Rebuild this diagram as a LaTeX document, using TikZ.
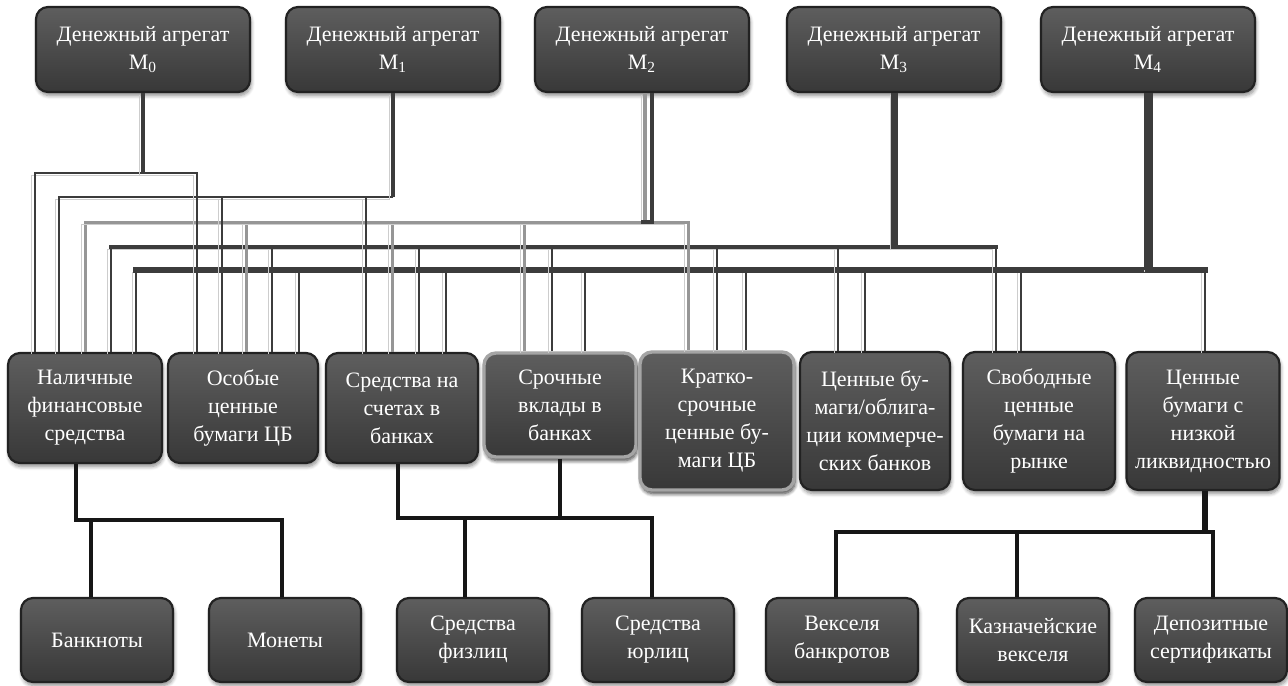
\documentclass[tikz,border=0pt]{standalone}
\usepackage{fontspec}
\setmainfont{Liberation Serif}
\usetikzlibrary{calc,shadows.blur}
\definecolor{boxtop}{RGB}{94,94,94}
\definecolor{boxbot}{RGB}{56,56,56}
\definecolor{boxedge}{RGB}{34,34,34}
\definecolor{lightedge}{RGB}{165,165,165}
\definecolor{linedark}{RGB}{60,60,60}
\definecolor{linegray}{RGB}{150,150,150}
\definecolor{linebot}{RGB}{22,22,22}
\definecolor{lineshade}{RGB}{205,205,205}
\tikzset{
  box/.style={rounded corners=6pt, draw=boxedge, line width=1.1pt,
    top color=boxtop, bottom color=boxbot, text=white, align=center,
    font=\rmfamily\fontsize{11}{14}\selectfont, inner sep=1pt,
    blur shadow={shadow xshift=0.6pt, shadow yshift=-1.8pt, shadow blur steps=6, shadow opacity=45}},
  lbox/.style={box, draw=lightedge, line width=1.7pt},
  topbox/.style={box, minimum width=107pt, minimum height=42.5pt},
  midbox/.style={box, minimum width=76pt, minimum height=55pt},
  tallbox/.style={box, minimum width=76pt, minimum height=69pt},
  lowbox/.style={box, minimum width=76pt, minimum height=42pt},
  lshade/.style={preaction={draw=lineshade, transform canvas={xshift=-1.6pt, yshift=-1pt}}},
  cdark/.style={lshade, draw=linedark, line width=1.4pt},
  cgray/.style={lshade, draw=linegray, line width=1.5pt},
  bline/.style={draw=linebot, line width=1.8pt},
}
\begin{document}
\begin{tikzpicture}[x=0.5pt,y=-0.5pt]
\useasboundingbox (0,0) rectangle (1288,685);
% top row
\node[topbox] (M0) at (143,49.5) {Денежный агрегат\\М\textsubscript{0}};
\node[topbox] (M1) at (393,49.5) {Денежный агрегат\\М\textsubscript{1}};
\node[topbox] (M2) at (642,49.5) {Денежный агрегат\\М\textsubscript{2}};
\node[topbox] (M3) at (894,49.5) {Денежный агрегат\\М\textsubscript{3}};
\node[topbox] (M4) at (1148,49.5) {Денежный агрегат\\М\textsubscript{4}};
% middle row
\node[midbox, minimum width=77pt] (nal) at (85,408) {Наличные\\финансовые\\средства};
\node[midbox, minimum width=75pt] (osob) at (243,408) {Особые\\ценные\\бумаги ЦБ};
\node[midbox] (sred) at (402,408) {Средства на\\счетах в\\банках};
\node[midbox, lbox, minimum height=52pt] (sroch) at (560,405) {Срочные\\вклады в\\банках};
\node[tallbox, lbox, minimum width=77pt] (krat) at (717,421) {Кратко-\\срочные\\ценные бу-\\маги ЦБ};
\node[tallbox, minimum width=75pt] (cenob) at (875,421) {Ценные бу-\\маги/облига-\\ции коммерче-\\ских банков};
\node[tallbox] (svob) at (1039,421) {Свободные\\ценные\\бумаги на\\рынке};
\node[tallbox, minimum width=76.5pt] (nizk) at (1203,421) {Ценные\\бумаги с\\низкой\\ликвидностью};
% bottom row
\node[lowbox] (bank) at (97,640) {Банкноты};
\node[lowbox] (mon) at (285,640) {Монеты};
\node[lowbox] (fiz) at (473,640) {Средства\\физлиц};
\node[lowbox] (yur) at (658,640) {Средства\\юрлиц};
\node[lowbox] (veks) at (842,640) {Векселя\\банкротов};
\node[lowbox] (kazn) at (1033,640) {Казначейские\\векселя};
\node[lowbox] (depo) at (1211,640) {Депозитные\\сертификаты};
% bar levels
\coordinate (y0) at (0,173);
\coordinate (y1) at (0,197);
\coordinate (y2) at (0,222);
\coordinate (y3) at (0,247);
\coordinate (y4) at (0,270);
\coordinate (z1) at (0,520);
\coordinate (z2) at (0,518);
\coordinate (z3) at (0,532);
% ports
\foreach \t/\d in {nal/-50,osob/-46} {\coordinate (p0-\t) at ($(\t.north)+(\d,0)$);}
\foreach \t/\d in {nal/-26,osob/-21,sred/-36} {\coordinate (p1-\t) at ($(\t.north)+(\d,0)$);}
\foreach \t/\d in {nal/0,osob/3,sred/-10,sroch/-36,krat/-29} {\coordinate (p2-\t) at ($(\t.north)+(\d,0)$);}
\foreach \t/\d in {nal/26,osob/29,sred/17,sroch/-8,krat/0,cenob/-37,svob/-43} {\coordinate (p3-\t) at ($(\t.north)+(\d,0)$);}
\foreach \t/\d in {nal/51,osob/56,sred/44,sroch/25,krat/29,cenob/-10,svob/-18,nizk/2} {\coordinate (p4-\t) at ($(\t.north)+(\d,0)$);}
% M4
\foreach \t in {nal,osob,sred,sroch,krat,cenob,svob,nizk} {\draw[cdark] (M4.south |- y4) -| (p4-\t);}
\draw[draw=linedark, line width=3pt, line cap=rect] (p4-nal |- y4) -- (p4-nizk |- y4);
\draw[lshade, draw=linedark, line width=4.5pt] (M4.south) -- (M4.south |- y4);
% M3
\foreach \t in {nal,osob,sred,sroch,krat,cenob,svob} {\draw[cdark] (M3.south |- y3) -| (p3-\t);}
\draw[draw=linedark, line width=2.2pt, line cap=rect] (p3-nal |- y3) -- (p3-svob |- y3);
\draw[lshade, draw=linedark, line width=3.5pt] (M3.south) -- (M3.south |- y3);
% M2
\coordinate (m2t) at ($(M2.south)+(3,0)$);
\foreach \t in {nal,osob,sred,sroch,krat} {\draw[cgray] (m2t |- y2) -| (p2-\t);}
\draw[cgray, line cap=rect] (p2-nal |- y2) -- (p2-krat |- y2);
\draw[cgray, line width=2.2pt] (m2t) -- (m2t |- y2);
\draw[draw=linedark, line width=1.6pt] ($(m2t)+(7,0)$) -- ($(m2t |- y2)+(7,0)$) -- ($(m2t |- y2)+(-4,0)$);
% M1
\foreach \t in {nal,osob,sred} {\draw[cdark] (M1.south |- y1) -| (p1-\t);}
\draw[lshade, draw=linedark, line width=2pt] (M1.south) -- (M1.south |- y1);
% M0
\foreach \t in {nal,osob} {\draw[cdark] (M0.south |- y0) -| (p0-\t);}
\draw[lshade, draw=linedark, line width=2pt] (M0.south) -- (M0.south |- y0);
% bottom connectors
\coordinate (q-nal) at ($(nal.south)+(-9,0)$);
\coordinate (q-bank) at ($(bank.north)+(-6,0)$);
\coordinate (q-mon) at ($(mon.north)+(-3,0)$);
\draw[bline] (q-nal) -- (q-nal |- z1) -| (q-mon);
\draw[bline] (q-bank |- z1) -- (q-bank);
\coordinate (q-sred) at ($(sred.south)+(-4,0)$);
\coordinate (q-sroch) at (sroch.south);
\coordinate (q-fiz) at ($(fiz.north)+(-8,0)$);
\coordinate (q-yur) at ($(yur.north)+(-6,0)$);
\draw[bline] (q-sred) -- (q-sred |- z2) -| (q-yur);
\draw[bline] (q-sroch) -- (q-sroch |- z2);
\draw[bline] (q-fiz |- z2) -- (q-fiz);
\coordinate (q-nizk) at ($(nizk.south)+(2,0)$);
\coordinate (q-veks) at ($(veks.north)+(-6,0)$);
\coordinate (q-kazn) at ($(kazn.north)+(-16,0)$);
\coordinate (q-depo) at ($(depo.north)+(2,0)$);
\draw[bline, line width=3pt] (q-nizk) -- (q-nizk |- z3);
\draw[bline] (q-veks) |- (q-depo |- z3) -- (q-depo);
\draw[bline] (q-kazn |- z3) -- (q-kazn);
\end{tikzpicture}
\end{document}
